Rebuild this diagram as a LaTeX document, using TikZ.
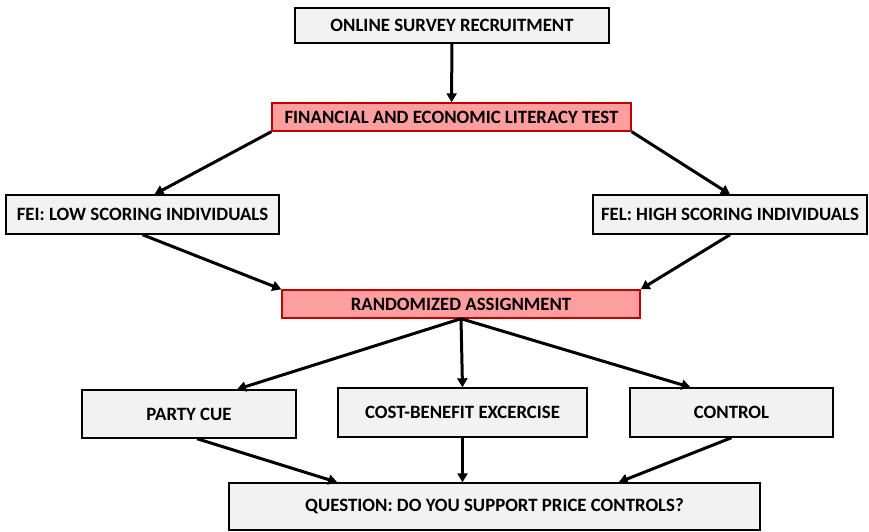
\documentclass[tikz,border=0pt]{standalone}
\usepackage{fontspec}
\setmainfont{Carlito}
\usetikzlibrary{arrows.meta}

\begin{document}
\begin{tikzpicture}
				[x=1pt,y=-1pt,every node/.style={draw=black,line width=1.4pt,fill=black!5,font=\fontsize{18.8}{22}\selectfont\bfseries,inner sep=0pt},
				keybox/.style={draw=red!75!black,fill=red!38!white},
				link/.style={line width=3pt,-{Triangle[length=9pt,width=10pt]}}]
				\useasboundingbox (0,0) rectangle (869,531);
				\node[minimum width=314pt,minimum height=35pt] (recruit) at (452,25.5) {ONLINE SURVEY RECRUITMENT};
				\node[keybox,minimum width=359pt,minimum height=28pt] (literacy) at (451.5,117) {FINANCIAL AND ECONOMIC LITERACY TEST};
				\node[minimum width=273pt,minimum height=39pt] (low) at (142.5,214.5) {FEI: LOW SCORING INDIVIDUALS};
				\node[minimum width=274pt,minimum height=39pt] (high) at (730,214.5) {FEL: HIGH SCORING INDIVIDUALS};
				\node[keybox,minimum width=358pt,minimum height=28pt] (random) at (461,304) {RANDOMIZED ASSIGNMENT};
				\node[minimum width=214pt,minimum height=48pt] (party) at (189,414) {PARTY CUE};
				\node[minimum width=249pt,minimum height=49pt] (cost) at (462.5,412.5) {COST-BENEFIT EXCERCISE};
				\node[minimum width=203pt,minimum height=49pt] (control) at (731.5,412.5) {CONTROL};
				\node[minimum width=531pt,minimum height=47pt] (question) at (494.5,506.5) {QUESTION: DO YOU SUPPORT PRICE CONTROLS?};
				
				\coordinate (lowin) at ([xshift=12pt]low.north);
				\coordinate (partyin) at ([xshift=48pt]party.north);
				\coordinate (controlin) at ([xshift=-41pt]control.north);
				\coordinate (partyout) at ([xshift=8pt]party.south);
				\coordinate (qleft) at ([xshift=109pt]question.north west);
				\coordinate (qmid) at (cost.south |- question.north);
				\coordinate (qright) at ([xshift=-142pt]question.north east);
				
				\foreach \from/\to in {recruit/literacy,literacy.south west/lowin,literacy.south east/high.north,low.south/random.north west,high.south/random.north east,random.south/partyin,random.south/cost.north,random.south/controlin,partyout/qleft,cost.south/qmid,control.south/qright}
				\draw[link] (\from) -- (\to);
				\end{tikzpicture}
\end{document}
